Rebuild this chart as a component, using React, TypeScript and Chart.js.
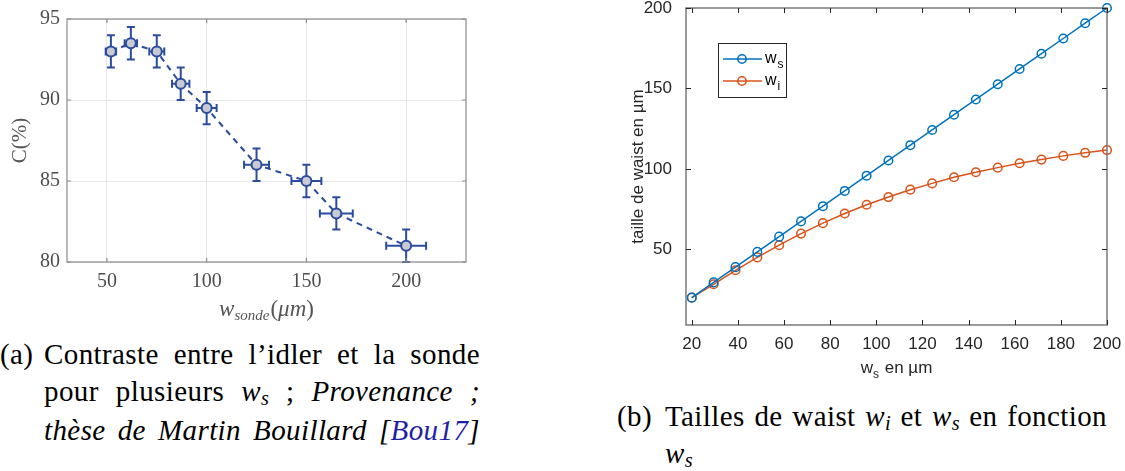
import React, { useEffect, useRef } from "react";
import { Chart, registerables } from "chart.js";
Chart.register(...registerables);

// ---------- Left chart (a): contrast vs probe waist ----------
const sondeWaist = [52, 62, 75, 87, 100, 125, 150, 165, 200];
const contrast = [93, 93.5, 93, 91, 89.5, 86, 85, 83, 81];
const sondeWaistErr = [2.6, 3.1, 3.75, 4.35, 5, 6.25, 7.5, 8.25, 10];
const contrastErr = [1, 1, 1, 1, 1, 1, 1, 1, 1];
const leftXTicks = [50, 100, 150, 200];
const leftYTicks = [80, 85, 90, 95];

// ---------- Right chart (b): waist sizes vs w_s ----------
const signalWaist = [20, 29.47, 38.95, 48.42, 57.89, 67.37, 76.84, 86.32, 95.79, 105.26, 114.74, 124.21, 133.68, 143.16, 152.63, 162.11, 171.58, 181.05, 190.53, 200];
const idlerWaist = [20, 28.3, 37, 45, 52.6, 59.8, 66.3, 72.3, 77.7, 82.5, 87.1, 91, 94.8, 97.9, 100.8, 103.5, 105.8, 108.1, 110, 111.7];
const rightXTicks = [20, 40, 60, 80, 100, 120, 140, 160, 180, 200];
const rightYTicks = [50, 100, 150, 200];

const SERIF = "'Liberation Serif', 'DejaVu Serif', serif";
const SANS = "'Liberation Sans', Arial, Helvetica, sans-serif";
const LEFT_BLUE = "#2b4c9e";
const MAT_BLUE = "#0072BD";
const MAT_ORANGE = "#D95319";
const RIGHT_SHIFT = 10; // right canvas starts this many px above the page top

type Part = { text: string; font: string; dy?: number; dx?: number };
function drawRich(ctx: CanvasRenderingContext2D, parts: Part[], x: number, y: number) {
  let total = 0;
  parts.forEach((p) => {
    ctx.font = p.font;
    total += ctx.measureText(p.text).width + (p.dx || 0);
  });
  let cx = x - total / 2;
  ctx.textAlign = "left";
  parts.forEach((p) => {
    ctx.font = p.font;
    ctx.fillText(p.text, cx, y + (p.dy || 0));
    cx += ctx.measureText(p.text).width + (p.dx || 0);
  });
}

function seg(ctx: CanvasRenderingContext2D, x0: number, y0: number, x1: number, y1: number) {
  ctx.moveTo(x0, y0);
  ctx.lineTo(x1, y1);
}

const leftPlugin = {
  id: "leftDecor",
  beforeDatasetsDraw(chart: any) {
    const { ctx, scales } = chart;
    const x = scales.x, y = scales.y;
    const cap = 4;
    ctx.save();
    ctx.strokeStyle = LEFT_BLUE;
    ctx.lineWidth = 2;
    ctx.beginPath();
    sondeWaist.forEach((xv, i) => {
      const px = x.getPixelForValue(xv);
      const py = y.getPixelForValue(contrast[i]);
      const y0 = y.getPixelForValue(contrast[i] - contrastErr[i]);
      const y1 = y.getPixelForValue(contrast[i] + contrastErr[i]);
      const x0 = x.getPixelForValue(xv - sondeWaistErr[i]);
      const x1 = x.getPixelForValue(xv + sondeWaistErr[i]);
      seg(ctx, px, y0, px, y1);
      seg(ctx, px - cap, y0, px + cap, y0);
      seg(ctx, px - cap, y1, px + cap, y1);
      seg(ctx, x0, py, x1, py);
      seg(ctx, x0, py - cap, x0, py + cap);
      seg(ctx, x1, py - cap, x1, py + cap);
    });
    ctx.stroke();
    ctx.restore();
  },
  afterDraw(chart: any) {
    const { ctx, chartArea: a, scales } = chart;
    const x = scales.x, y = scales.y;
    ctx.save();
    ctx.strokeStyle = "#8c8c8c";
    ctx.lineWidth = 1.2;
    ctx.strokeRect(a.left, a.top, a.right - a.left, a.bottom - a.top);
    ctx.beginPath();
    leftXTicks.forEach((v) => {
      const px = x.getPixelForValue(v);
      seg(ctx, px, a.bottom, px, a.bottom - 4);
      seg(ctx, px, a.top, px, a.top + 4);
    });
    leftYTicks.forEach((v) => {
      const py = y.getPixelForValue(v);
      seg(ctx, a.left, py, a.left + 4, py);
      seg(ctx, a.right, py, a.right - 4, py);
    });
    ctx.stroke();
    ctx.fillStyle = "#555555";
    ctx.textBaseline = "alphabetic";
    drawRich(
      ctx,
      [
        { text: "w", font: `italic 23px ${SERIF}` },
        { text: "sonde", font: `italic 15px ${SERIF}`, dy: 4, dx: 1 },
        { text: "(", font: `23px ${SERIF}` },
        { text: "μm", font: `italic 23px ${SERIF}` },
        { text: ")", font: `23px ${SERIF}` },
      ],
      (a.left + a.right) / 2,
      316
    );
    ctx.translate(20, (a.top + a.bottom) / 2);
    ctx.rotate(-Math.PI / 2);
    ctx.textAlign = "center";
    ctx.textBaseline = "middle";
    ctx.font = `21px ${SERIF}`;
    ctx.fillText("C(%)", 0, 0);
    ctx.restore();
  },
};

const rightPlugin = {
  id: "rightDecor",
  afterDraw(chart: any) {
    const { ctx, chartArea: a, scales } = chart;
    const x = scales.x, y = scales.y;
    ctx.save();
    // box
    ctx.strokeStyle = "#7a7a7a";
    ctx.lineWidth = 1.5;
    ctx.strokeRect(a.left, a.top, a.right - a.left, a.bottom - a.top);
    // inward ticks
    ctx.strokeStyle = "#262626";
    ctx.lineWidth = 1;
    ctx.beginPath();
    rightXTicks.forEach((v) => {
      const px = Math.round(x.getPixelForValue(v)) + 0.5;
      seg(ctx, px, a.bottom, px, a.bottom - 5);
      seg(ctx, px, a.top, px, a.top + 5);
    });
    rightYTicks.forEach((v) => {
      const py = Math.round(y.getPixelForValue(v)) + 0.5;
      seg(ctx, a.left, py, a.left + 5, py);
      seg(ctx, a.right, py, a.right - 5, py);
    });
    ctx.stroke();

    // legend
    const lx = a.left + 32, ly = a.top + 35, lw = 68, lh = 54;
    ctx.fillStyle = "#ffffff";
    ctx.fillRect(lx, ly, lw, lh);
    ctx.strokeStyle = "#262626";
    ctx.lineWidth = 1;
    ctx.strokeRect(lx + 0.5, ly + 0.5, lw, lh);
    const entries = [
      { color: MAT_BLUE, sub: "s", yy: ly + 16 },
      { color: MAT_ORANGE, sub: "i", yy: ly + 38 },
    ];
    entries.forEach((e) => {
      ctx.strokeStyle = e.color;
      ctx.lineWidth = 1.5;
      ctx.beginPath();
      seg(ctx, lx + 5, e.yy, lx + 44, e.yy);
      ctx.stroke();
      ctx.beginPath();
      ctx.arc(lx + 24, e.yy, 4.2, 0, Math.PI * 2);
      ctx.stroke();
      ctx.fillStyle = "#000000";
      ctx.textAlign = "left";
      ctx.textBaseline = "alphabetic";
      ctx.font = `16px ${SANS}`;
      ctx.fillText("w", lx + 47, e.yy + 4);
      const ww = ctx.measureText("w").width;
      ctx.font = `12px ${SANS}`;
      ctx.fillText(e.sub, lx + 47 + ww + 1, e.yy + 9);
    });

    // titles
    ctx.fillStyle = "#262626";
    ctx.textBaseline = "alphabetic";
    drawRich(
      ctx,
      [
        { text: "w", font: `17px ${SANS}` },
        { text: "s", font: `12px ${SANS}`, dy: 5, dx: 1 },
        { text: " en µm", font: `17px ${SANS}` },
      ],
      (a.left + a.right) / 2,
      373 + RIGHT_SHIFT
    );
    ctx.translate(38, (a.top + a.bottom) / 2);
    ctx.rotate(-Math.PI / 2);
    ctx.textAlign = "center";
    ctx.textBaseline = "middle";
    ctx.font = `17px ${SANS}`;
    ctx.fillText("taille de waist en µm", 0, 0);
    ctx.restore();
  },
};

function makeLeftConfig(): any {
  return {
    type: "scatter",
    data: {
      datasets: [
        {
          data: sondeWaist.map((v, i) => ({ x: v, y: contrast[i] })),
          showLine: true,
          borderColor: LEFT_BLUE,
          borderWidth: 2,
          borderDash: [6, 5],
          pointRadius: 5,
          pointBorderWidth: 2,
          pointBackgroundColor: "#c9cbd3",
          pointBorderColor: LEFT_BLUE,
          clip: false,
        },
      ],
    },
    options: {
      responsive: true,
      maintainAspectRatio: false,
      animation: false,
      layout: { padding: { top: 19, right: 14, left: 0, bottom: 0 } },
      plugins: { legend: { display: false }, tooltip: { enabled: false } },
      scales: {
        x: {
          type: "linear",
          min: 30,
          max: 230,
          afterBuildTicks: (s: any) => {
            s.ticks = leftXTicks.map((v) => ({ value: v }));
          },
          afterFit: (s: any) => {
            s.height = 68;
          },
          grid: { color: "#e6e6e6", drawTicks: false, lineWidth: 1 },
          border: { display: false },
          ticks: { color: "#4d4d4d", font: { family: SERIF, size: 20 }, padding: 8, maxRotation: 0 },
        },
        y: {
          type: "linear",
          min: 80,
          max: 95,
          afterBuildTicks: (s: any) => {
            s.ticks = leftYTicks.map((v) => ({ value: v }));
          },
          afterFit: (s: any) => {
            s.width = 67;
          },
          grid: { color: "#e6e6e6", drawTicks: false, lineWidth: 1 },
          border: { display: false },
          ticks: { color: "#4d4d4d", font: { family: SERIF, size: 20 }, padding: 7 },
        },
      },
    },
    plugins: [leftPlugin],
  };
}

function makeRightConfig(): any {
  const common = {
    showLine: true,
    borderWidth: 1.5,
    pointRadius: 4.3,
    pointBorderWidth: 1.5,
    pointBackgroundColor: "rgba(0,0,0,0)",
    clip: false,
  };
  return {
    type: "scatter",
    data: {
      datasets: [
        {
          ...common,
          label: "ws",
          data: signalWaist.map((v) => ({ x: v, y: v })),
          borderColor: MAT_BLUE,
          pointBorderColor: MAT_BLUE,
        },
        {
          ...common,
          label: "wi",
          data: signalWaist.map((v, i) => ({ x: v, y: idlerWaist[i] })),
          borderColor: MAT_ORANGE,
          pointBorderColor: MAT_ORANGE,
        },
      ],
    },
    options: {
      responsive: true,
      maintainAspectRatio: false,
      animation: false,
      layout: { padding: { top: 8 + RIGHT_SHIFT, right: 18, left: 0, bottom: 0 } },
      plugins: { legend: { display: false }, tooltip: { enabled: false } },
      scales: {
        x: {
          type: "linear",
          min: 17.5,
          max: 200,
          afterBuildTicks: (s: any) => {
            s.ticks = rightXTicks.map((v) => ({ value: v }));
          },
          afterFit: (s: any) => {
            s.height = 65;
          },
          grid: { display: false },
          border: { display: false },
          ticks: { color: "#262626", font: { family: SANS, size: 17 }, padding: 1, maxRotation: 0, autoSkip: false },
        },
        y: {
          type: "linear",
          min: 3,
          max: 200,
          afterBuildTicks: (s: any) => {
            s.ticks = rightYTicks.map((v) => ({ value: v }));
          },
          afterFit: (s: any) => {
            s.width = 86;
          },
          grid: { display: false },
          border: { display: false },
          ticks: { color: "#262626", font: { family: SANS, size: 17 }, padding: 6 },
        },
      },
    },
    plugins: [rightPlugin],
  };
}

function ChartBox({ make, style }: { make: () => any; style: React.CSSProperties }) {
  const ref = useRef<HTMLCanvasElement>(null);
  useEffect(() => {
    const chart = new Chart(ref.current as HTMLCanvasElement, make());
    return () => chart.destroy();
  }, []);
  return (
    <div style={{ position: "absolute", ...style }}>
      <canvas ref={ref} />
    </div>
  );
}

const justify: React.CSSProperties = { textAlign: "justify", textAlignLast: "justify" as any };
const Sub = ({ children }: { children: React.ReactNode }) => (
  <span style={{ fontSize: "0.7em", position: "relative", top: "0.2em", letterSpacing: 0 }}>{children}</span>
);
const MathW = ({ sub }: { sub: string }) => (
  <i>
    w<Sub>{sub}</Sub>
  </i>
);

export default function App() {
  return (
    <div
      style={{
        position: "fixed",
        left: 0,
        top: 0,
        width: 1125,
        height: 471,
        background: "#ffffff",
        overflow: "hidden",
      }}
    >
      <ChartBox make={makeLeftConfig} style={{ left: 0, top: 0, width: 480, height: 330 }} />
      <ChartBox
        make={makeRightConfig}
        style={{ left: 600, top: -RIGHT_SHIFT, width: 525, height: 390 + RIGHT_SHIFT }}
      />

      {/* caption (a) */}
      <div
        style={{
          position: "absolute",
          left: 0,
          top: 336,
          fontFamily: SERIF,
          fontSize: 29,
          letterSpacing: "0.4px",
          lineHeight: "36.5px",
          color: "#000",
          display: "flex",
        }}
      >
        <div style={{ width: 44 }}>(a)</div>
        <div style={{ width: 436 }}>
          <div style={justify}>Contraste entre l’idler et la sonde</div>
          <div style={justify}>
            pour plusieurs <MathW sub="s" /> ; <i>Provenance ;</i>
          </div>
          <div style={justify}>
            <i>
              thèse de Martin Bouillard [<span style={{ color: "#1f1fa5" }}>Bou17</span>]
            </i>
          </div>
        </div>
      </div>

      {/* caption (b) */}
      <div
        style={{
          position: "absolute",
          left: 617,
          top: 400,
          fontFamily: SERIF,
          fontSize: 29,
          letterSpacing: "0.4px",
          lineHeight: "33.5px",
          color: "#000",
          display: "flex",
        }}
      >
        <div style={{ width: 48 }}>(b)</div>
        <div style={{ width: 442 }}>
          <div style={justify}>
            Tailles de waist <MathW sub="i" /> et <MathW sub="s" /> en fonction
          </div>
          <div>
            <MathW sub="s" />
          </div>
        </div>
      </div>
    </div>
  );
}
